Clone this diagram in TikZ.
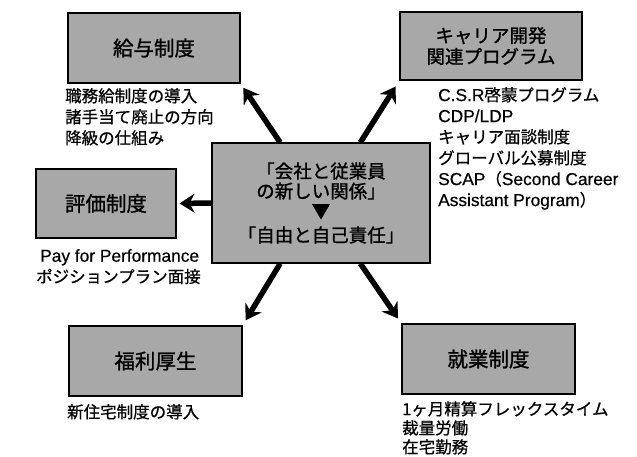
\documentclass[tikz,border=0pt]{standalone}
\usepackage{fontspec}
\setmainfont{Noto Sans CJK JP}
\newfontfamily\jpmed[FakeBold=0.7]{Noto Sans CJK JP}
\newfontfamily\jphead[FakeBold=1.2]{Noto Sans CJK JP}
\newfontfamily\lat[Scale=1.05,FakeBold=0.5]{Liberation Sans}
\usetikzlibrary{arrows.meta}
\definecolor{boxgray}{gray}{0.66}
\tikzset{
  catbox/.style={draw=black, line width=1.1pt, fill=boxgray, inner sep=0pt,
    font=\jphead\fontsize{20.5}{23}\selectfont, align=center},
  hub/.style={draw=black, line width=1.1pt, fill=boxgray, inner sep=0pt,
    minimum width=218pt, minimum height=120pt, align=center,
    font=\jphead\fontsize{18.5}{20}\selectfont},
  notes/.style={anchor=north west, inner sep=0pt, align=left,
    font=\jpmed\fontsize{16.5}{21}\selectfont},
  bigarrow/.style={line width=5.5pt, -{Stealth[length=15pt,width=19pt,inset=5pt]}},
}
\begin{document}
\begin{tikzpicture}[x=1pt,y=-1pt]
\useasboundingbox (0,0) rectangle (637,457);
\fill[white] (0,0) rectangle (637,457);

\node[catbox, minimum width=172pt, minimum height=70pt] (g) at (154,48) {給与制度};
\node[catbox, minimum width=182pt, minimum height=68pt, font=\jphead\fontsize{18.5}{21}\selectfont] (k) at (491,46) {キャリア開発\\関連プログラム};
\node[catbox, minimum width=140pt, minimum height=69pt] (h) at (106,203.5) {評価制度};
\node[catbox, minimum width=173pt, minimum height=70pt] (f) at (155.5,361) {福利厚生};
\node[catbox, minimum width=173pt, minimum height=70pt] (s) at (488.5,359) {就業制度};

\node[hub] (c) at (321,203) {「会社と従業員\\の新しい関係」\\▼\\[4pt]「自由と自己責任」};

\node[notes] (gt) at (65,88) {職務給制度の導入\\諸手当て廃止の方向\\降級の仕組み};
\node[notes] (kt) at (438,87) {{\lat C.S.R}啓蒙プログラム\\{\lat CDP/LDP}\\キャリア面談制度\\グローバル公募制度\\{\lat SCAP}（{\lat Second Career}\\{\lat Assistant Program}）};
\node[notes] (ht) at (36,249) {\hspace{4pt}{\lat Pay for Performance}\\ポジションプラン面接};
\node[notes] (ft) at (67,404) {新住宅制度の導入};
\node[notes, font=\jpmed\fontsize{16.5}{19}\selectfont] (st) at (402,401) {1ヶ月精算フレックスタイム\\裁量労働\\在宅勤務};

\draw[bigarrow, shorten >=5pt] (c.124) -- (g.south east);
\draw[bigarrow, shorten >=7pt] (c.57) -- (k.south west);
\draw[bigarrow, shorten >=3pt] (c.west) -- (h.east);
\draw[bigarrow, shorten >=6pt] (c.236) -- (f.north east);
\draw[bigarrow, shorten >=6pt] (c.303) -- (s.north west);
\end{tikzpicture}
\end{document}
